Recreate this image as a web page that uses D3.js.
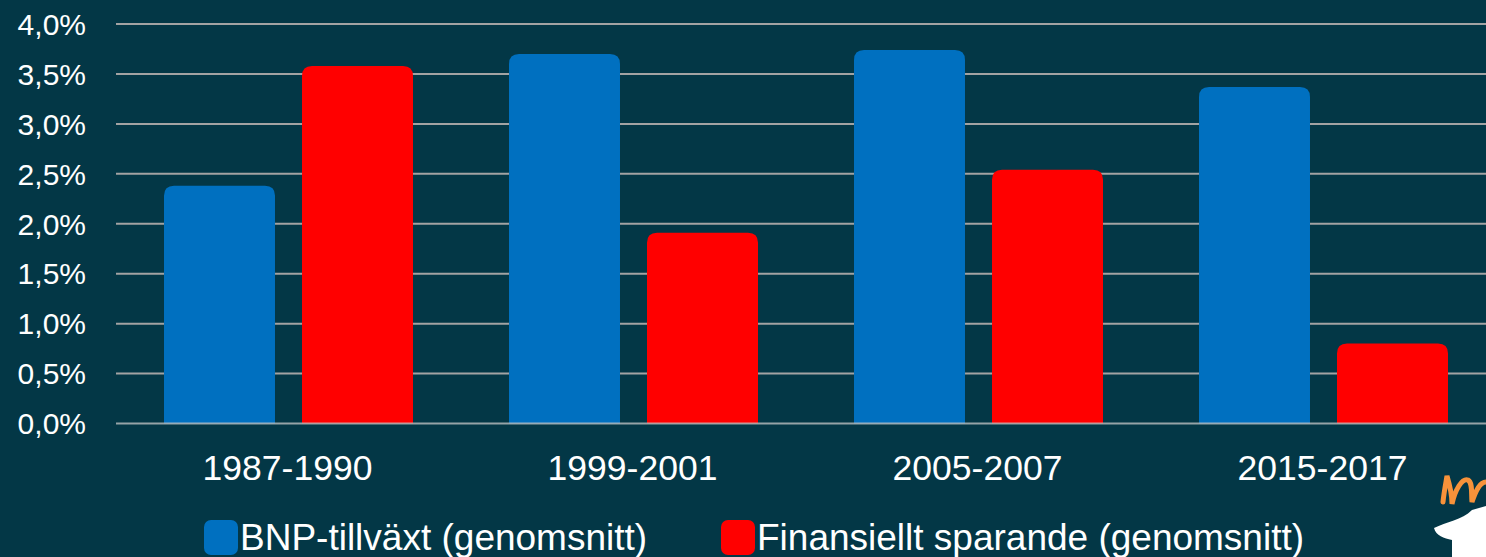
<!DOCTYPE html>
<html>
<head>
<meta charset="utf-8">
<script src="https://cdn.jsdelivr.net/npm/d3@7"></script>
<style>
  html, body { margin: 0; padding: 0; background: #033746; overflow: hidden; }
  svg { display: block; }
  text { font-family: "Liberation Sans", Arial, sans-serif; fill: #ffffff; }
</style>
</head>
<body>
<svg id="chart" width="1486" height="557"></svg>
<script>
const categories = ["1987-1990", "1999-2001", "2005-2007", "2015-2017"];
const seriesNames = ["BNP-tillväxt (genomsnitt)", "Finansiellt sparande (genomsnitt)"];
const bnpValues = [2.38, 3.70, 3.74, 3.37];
const sparandeValues = [3.58, 1.91, 2.54, 0.80];
const yTicks = [0, 0.5, 1.0, 1.5, 2.0, 2.5, 3.0, 3.5, 4.0];
const colors = ["#0070C0", "#FF0000"];

const W = 1486, H = 557;
const svg = d3.select("#chart");
svg.append("rect").attr("width", W).attr("height", H).attr("fill", "#033746");

const y = d3.scaleLinear().domain([0, 4]).range([423.5, 24]);
const x0 = d3.scaleBand().domain(categories).range([116, 1496]).padding(0);
const x1 = d3.scaleBand().domain(seriesNames).range([48, 297]).paddingInner(0.1957).paddingOuter(0);
const color = d3.scaleOrdinal().domain(seriesNames).range(colors);

const fmt = v => d3.format(".1f")(v).replace(".", ",") + "%";

// gridlines
svg.append("g").selectAll("line").data(yTicks.filter(t => t > 0)).join("line")
  .attr("x1", 116).attr("x2", W)
  .attr("y1", d => y(d)).attr("y2", d => y(d))
  .attr("stroke", "#a3a3a3").attr("stroke-width", 2);

// y labels
svg.append("g").selectAll("text").data(yTicks).join("text")
  .attr("x", 86).attr("y", d => y(d)).attr("dy", "0.36em")
  .attr("text-anchor", "end").attr("font-size", 30)
  .text(fmt);

// bars
const data = categories.map((c, i) => ({
  cat: c,
  vals: [{ s: seriesNames[0], v: bnpValues[i] }, { s: seriesNames[1], v: sparandeValues[i] }]
}));

function topRounded(x, yTop, w, yBot, r) {
  r = Math.min(r, w / 2, (yBot - yTop));
  return `M${x},${yBot}V${yTop + r}Q${x},${yTop} ${x + r},${yTop}H${x + w - r}Q${x + w},${yTop} ${x + w},${yTop + r}V${yBot}Z`;
}

const groups = svg.append("g").selectAll("g").data(data).join("g")
  .attr("transform", d => `translate(${x0(d.cat)},0)`);
groups.selectAll("path").data(d => d.vals).join("path")
  .attr("d", d => topRounded(x1(d.s), y(d.v), x1.bandwidth(), y(0), 10))
  .attr("fill", d => color(d.s));

// baseline over bars
svg.append("line")
  .attr("x1", 116).attr("x2", W).attr("y1", y(0)).attr("y2", y(0))
  .attr("stroke", "#c8c8c8").attr("stroke-width", 2).attr("stroke-opacity", 0.75);

// category labels
svg.append("g").selectAll("text").data(categories).join("text")
  .attr("x", d => x0(d) + x0.bandwidth() / 2 - 1).attr("y", 480)
  .attr("text-anchor", "middle").attr("font-size", 35.5)
  .text(d => d);

// legend
const legendX = [204, 721];
const leg = svg.append("g").selectAll("g").data(seriesNames).join("g")
  .attr("transform", (d, i) => `translate(${legendX[i]},0)`);
leg.append("rect").attr("x", 0).attr("y", 520).attr("width", 34).attr("height", 35)
  .attr("rx", 7).attr("fill", d => color(d));
leg.append("text").attr("x", 36).attr("y", 550).attr("font-size", 37).text(d => d);

// logo fragment (bottom right)
svg.append("path")
  .attr("d", "M1443,502 C1444,492 1446,482 1447,476 C1450,486 1452,498 1452,504 C1455,490 1462,478 1468,480 C1473,483 1471,494 1472,502 C1476,490 1480,482 1486,482")
  .attr("fill", "none").attr("stroke", "#F7923A").attr("stroke-width", 5).attr("stroke-linecap", "round");
svg.append("path")
  .attr("d", "M1434,528 C1446,522 1462,520 1472,510 L1486,506 L1486,557 L1452,557 L1452,540 C1444,538 1436,536 1434,528 Z")
  .attr("fill", "#ffffff");
</script>
</body>
</html>
